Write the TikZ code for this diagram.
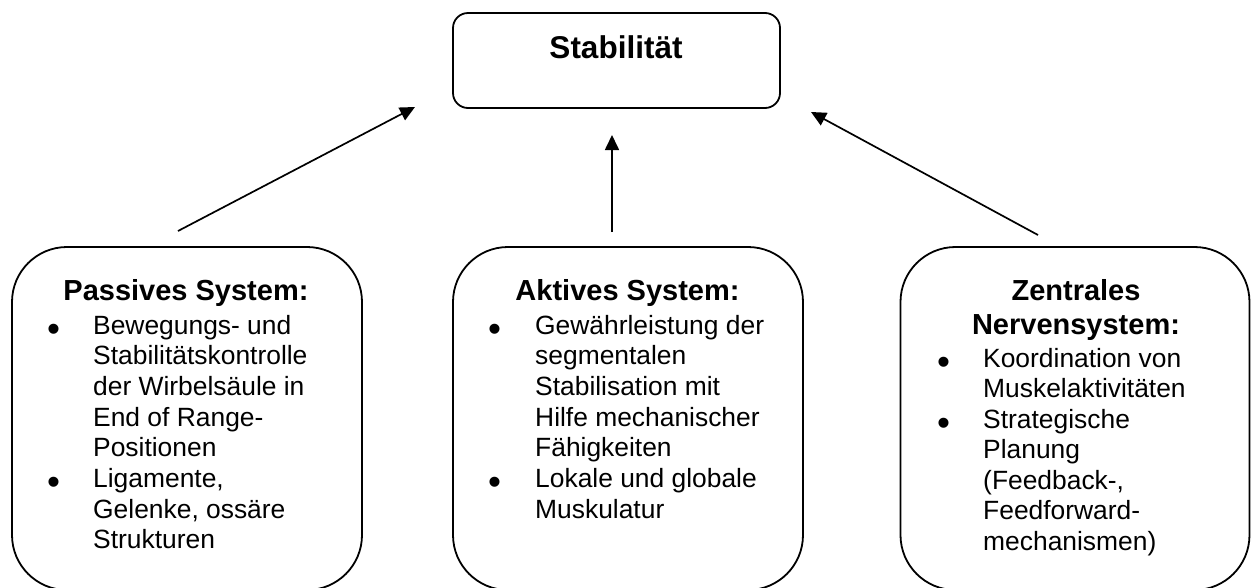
\documentclass[tikz,border=0pt]{standalone}
\usepackage{fontspec}
\setmainfont{Liberation Sans}
\usetikzlibrary{arrows.meta}
\begin{document}
\begin{tikzpicture}[x=1pt,y=-1pt,
  roundbox/.style={draw=black,line width=1.8pt,rounded corners=55pt,inner sep=0pt,minimum width=350pt,minimum height=343pt},
  topbox/.style={draw=black,line width=1.8pt,rounded corners=15pt,inner sep=0pt,minimum width=327pt,minimum height=95pt},
  conn/.style={line width=1.7pt,-{Triangle[length=15pt,width=14pt]}},
  title/.style={inner sep=0pt,anchor=base,font=\fontsize{31.5}{36}\selectfont\bfseries},
  head/.style={inner sep=0pt,anchor=base,font=\fontsize{29}{33}\selectfont\bfseries},
  body/.style={inner sep=0pt,anchor=base west,font=\fontsize{26.4}{30.4}\selectfont},
  bul/.style={inner sep=0pt,anchor=base,yshift=-7pt,font=\fontsize{37}{40}\selectfont}]
\useasboundingbox (0,0) rectangle (1251,587);
% boxes
\node[topbox] (stab) at (616.5,60.5) {};
\node[title] (stabt) at (616,58) {Stabilität};
\node[roundbox] (pas) at (187,418.5) {};
\node[roundbox] (akt) at (628,418.5) {};
\node[roundbox,minimum width=349pt] (zns) at (1075,418.5) {};
% arrows
\coordinate (a1s) at (178,231);
\coordinate (a1e) at (415,107);
\coordinate (a2s) at (612,232);
\coordinate (a2e) at (612,135);
\coordinate (a3s) at (1038,235);
\coordinate (a3e) at (811,112);
\draw[conn] (a1s) -- (a1e);
\draw[conn] (a2s) -- (a2e);
\draw[conn] (a3s) -- (a3e);
% passive
\node[head] (ph) at (186,300) {Passives System:};
\node[bul] (pb1) at (53.5,334) {•};
\node[body] (pl1) at (93,334) {Bewegungs- und};
\node[body] (pl2) at (93,364.7) {Stabilitätskontrolle};
\node[body] (pl3) at (93,395.4) {der Wirbelsäule in};
\node[body] (pl4) at (93,426.1) {End of Range-};
\node[body] (pl5) at (93,456.8) {Positionen};
\node[bul] (pb2) at (53.5,487.5) {•};
\node[body] (pl6) at (93,487.5) {Ligamente,};
\node[body] (pl7) at (93,518.2) {Gelenke, ossäre};
\node[body] (pl8) at (93,548.9) {Strukturen};
% active
\node[head] (ah) at (627.5,300) {Aktives System:};
\node[bul] (ab1) at (494.5,334) {•};
\node[body] (al1) at (535,334) {Gewährleistung der};
\node[body] (al2) at (535,364.7) {segmentalen};
\node[body] (al3) at (535,395.4) {Stabilisation mit};
\node[body] (al4) at (535,426.1) {Hilfe mechanischer};
\node[body] (al5) at (535,456.8) {Fähigkeiten};
\node[bul] (ab2) at (494.5,487.5) {•};
\node[body] (al6) at (535,487.5) {Lokale und globale};
\node[body] (al7) at (535,518.2) {Muskulatur};
% ZNS
\node[head] (zh1) at (1076,300) {Zentrales};
\node[head] (zh2) at (1076,334) {Nervensystem:};
\node[bul] (zb1) at (943.5,367) {•};
\node[body] (zl1) at (983,367) {Koordination von};
\node[body] (zl2) at (983,397.5) {Muskelaktivitäten};
\node[bul] (zb2) at (943.5,428) {•};
\node[body] (zl3) at (983,428) {Strategische};
\node[body] (zl4) at (983,458.5) {Planung};
\node[body] (zl5) at (983,489) {(Feedback-,};
\node[body] (zl6) at (983,519.5) {Feedforward-};
\node[body] (zl7) at (983,550) {mechanismen)};
\end{tikzpicture}
\end{document}
